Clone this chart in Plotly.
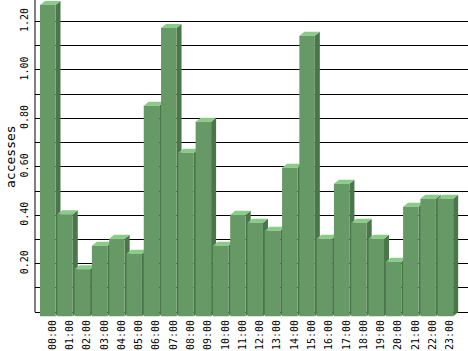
import plotly.graph_objects as go

hours = ["00:00", "01:00", "02:00", "03:00", "04:00", "05:00", "06:00", "07:00",
         "08:00", "09:00", "10:00", "11:00", "12:00", "13:00", "14:00", "15:00",
         "16:00", "17:00", "18:00", "19:00", "20:00", "21:00", "22:00", "23:00"]
accesses = [1.285, 0.421, 0.194, 0.291, 0.320, 0.258, 0.869, 1.190,
            0.675, 0.803, 0.291, 0.419, 0.386, 0.353, 0.613, 1.158,
            0.320, 0.547, 0.386, 0.320, 0.225, 0.452, 0.485, 0.485]
y_tick_vals = [0.0, 0.1, 0.2, 0.3, 0.4, 0.5, 0.6, 0.7, 0.8, 0.9, 1.0, 1.1, 1.2]
y_tick_text = ["", "", "0.20", "", "0.40", "", "0.60", "", "0.80", "", "1.00", "", "1.20"]
y_title = "accesses"

FRONT = "#679967"
TOP = "#88cc88"
SIDE = "#4b764b"

# geometry in axis units
HALF = 0.448      # half width of front face (category units)
DX = 0.289        # depth offset, x
DY = 0.0165       # depth offset, y

x_idx = list(range(len(hours)))

fig = go.Figure()
fig.add_trace(go.Scatter(x=x_idx, y=accesses, mode="markers",
                         marker=dict(opacity=0), hoverinfo="skip", showlegend=False))

shapes = []
for i, v in zip(x_idx, accesses):
    xl, xr = i - HALF, i + HALF
    side = f"M {xr},{-DY} L {xr},{v-DY} L {xr+DX},{v} L {xr+DX},0 Z"
    top = f"M {xl},{v-DY} L {xr},{v-DY} L {xr+DX},{v} L {xl+DX},{v} Z"
    shapes.append(dict(type="path", path=side, xref="x", yref="y",
                       fillcolor=SIDE, line=dict(width=0)))
    shapes.append(dict(type="path", path=top, xref="x", yref="y",
                       fillcolor=TOP, line=dict(width=0)))
    shapes.append(dict(type="rect", x0=xl, x1=xr, y0=-DY, y1=v - DY, xref="x", yref="y",
                       fillcolor=FRONT, line=dict(width=0)))

# left axis line
shapes.append(dict(type="line", xref="paper", yref="y", x0=0, x1=0, y0=0, y1=1.2888,
                   line=dict(color="black", width=1)))

fig.update_layout(
    width=468, height=351,
    margin=dict(l=35, r=0, t=0, b=34),
    paper_bgcolor="white", plot_bgcolor="white",
    showlegend=False,
    shapes=shapes,
    font=dict(family="DejaVu Sans Mono", color="black"),
    xaxis=dict(range=[-0.7375, 24.306], showgrid=False, zeroline=False,
               tickmode="array", tickvals=[i + 0.27 for i in x_idx], ticktext=hours,
               tickangle=-90, tickfont=dict(size=10, family="DejaVu Sans Mono"),
               ticks="", showline=False),
    yaxis=dict(range=[-0.0198, 1.2888], showgrid=True, gridcolor="black", gridwidth=1,
               zeroline=False, tickmode="array", tickvals=y_tick_vals, ticktext=y_tick_text,
               tickangle=-90, tickfont=dict(size=10, family="DejaVu Sans Mono"),
               ticks="", showline=False, ticklabelstandoff=4),
    annotations=[dict(text=y_title, textangle=-90, xref="paper", yref="paper",
                      x=(10 - 35) / 433, y=(317 - 157) / 317, xanchor="center",
                      yanchor="middle", showarrow=False,
                      font=dict(size=13, family="DejaVu Sans Mono"))],
)

fig.write_html("out.html")
